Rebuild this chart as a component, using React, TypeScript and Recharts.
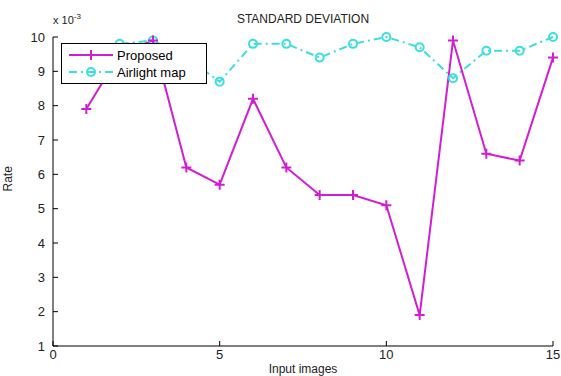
import React from 'react';
import { LineChart, Line, XAxis, YAxis } from 'recharts';

const images = [1, 2, 3, 4, 5, 6, 7, 8, 9, 10, 11, 12, 13, 14, 15];
const proposed = [7.9, 9.5, 9.9, 6.2, 5.7, 8.2, 6.2, 5.4, 5.4, 5.1, 1.9, 9.9, 6.6, 6.4, 9.4];
const airlight = [9.5, 9.8, 9.9, 9.4, 8.7, 9.8, 9.8, 9.4, 9.8, 10.0, 9.7, 8.8, 9.6, 9.6, 10.0];
const xTicks = [0, 5, 10, 15];
const yTicks = [1, 2, 3, 4, 5, 6, 7, 8, 9, 10];

const data = images.map((n, i) => ({ n, proposed: proposed[i], airlight: airlight[i] }));

const MAGENTA = '#d21ed2';
const CYAN = '#3ddede';
const FONT = '"Liberation Sans", Arial, sans-serif';

const Plus = ({ cx, cy }: any) => (
  <path d={`M${cx - 5},${cy}H${cx + 5}M${cx},${cy - 5}V${cy + 5}`} stroke={MAGENTA} strokeWidth={2} />
);

const Circ = ({ cx, cy }: any) => (
  <circle cx={cx} cy={cy} r={4} fill="none" stroke={CYAN} strokeWidth={2} />
);

// legend sits in its own svg on top of the chart (covers the lines like matlab does)
const LegendBox = () => (
  <svg width={147} height={42} style={{ position: 'absolute', left: 61, top: 43 }} fontFamily={FONT} fontSize={13}>
    <rect x={0.5} y={0.5} width={145} height={40} fill="#fff" stroke="#000" />
    <line x1={8} x2={52} y1={12} y2={12} stroke={MAGENTA} strokeWidth={2} />
    <Plus cx={30} cy={12} />
    <text x={56} y={17} fill="#000">Proposed</text>
    <line x1={8} x2={52} y1={29} y2={29} stroke={CYAN} strokeWidth={2} strokeDasharray="8 4 2 4" />
    <Circ cx={30} cy={29} />
    <text x={56} y={34} fill="#000">Airlight map</text>
  </svg>
);

export default function App() {
  return (
    <div style={{ position: 'absolute', left: 0, top: 0, width: 561, height: 376, background: '#fff' }}>
      <LineChart width={561} height={376} data={data} margin={{ top: 37, right: 8, bottom: 0, left: 0 }}>
        <XAxis
          dataKey="n"
          type="number"
          domain={[0, 15]}
          ticks={xTicks}
          height={30}
          stroke="#000"
          tickSize={-5}
          tickMargin={9}
          tick={{ fill: '#222', fontSize: 13, fontFamily: FONT }}
        />
        <XAxis
          xAxisId="top"
          orientation="top"
          dataKey="n"
          type="number"
          domain={[0, 15]}
          ticks={xTicks}
          height={0}
          stroke="#555"
          tickSize={-5}
          tickFormatter={() => ''}
        />
        <YAxis
          type="number"
          domain={[1, 10]}
          ticks={yTicks}
          width={53}
          stroke="#000"
          tickSize={-5}
          tickMargin={13}
          tick={{ fill: '#222', fontSize: 13, fontFamily: FONT }}
          label={{ value: 'Rate', angle: -90, position: 'insideLeft', offset: 8, fill: '#222', fontSize: 12, fontFamily: FONT }}
        />
        <YAxis
          yAxisId="right"
          orientation="right"
          type="number"
          domain={[1, 10]}
          ticks={yTicks}
          width={0}
          stroke="#555"
          tickSize={-5}
          tickFormatter={() => ''}
        />
        <Line
          dataKey="airlight"
          name="Airlight map"
          stroke={CYAN}
          strokeWidth={2}
          strokeDasharray="8 4 2 4"
          dot={<Circ />}
          isAnimationActive={false}
        />
        <Line
          dataKey="proposed"
          name="Proposed"
          stroke={MAGENTA}
          strokeWidth={2}
          dot={<Plus />}
          isAnimationActive={false}
        />
        <text x={303} y={23} textAnchor="middle" fontSize={12} fontFamily={FONT} fill="#222">STANDARD DEVIATION</text>
        <text x={53} y={24} fontSize={11} fontFamily={FONT} fill="#222">
          x 10<tspan dy={-5} fontSize={8}>-3</tspan>
        </text>
        <text x={303} y={373} textAnchor="middle" fontSize={12} fontFamily={FONT} fill="#222">Input images</text>
      </LineChart>
      <LegendBox />
    </div>
  );
}
